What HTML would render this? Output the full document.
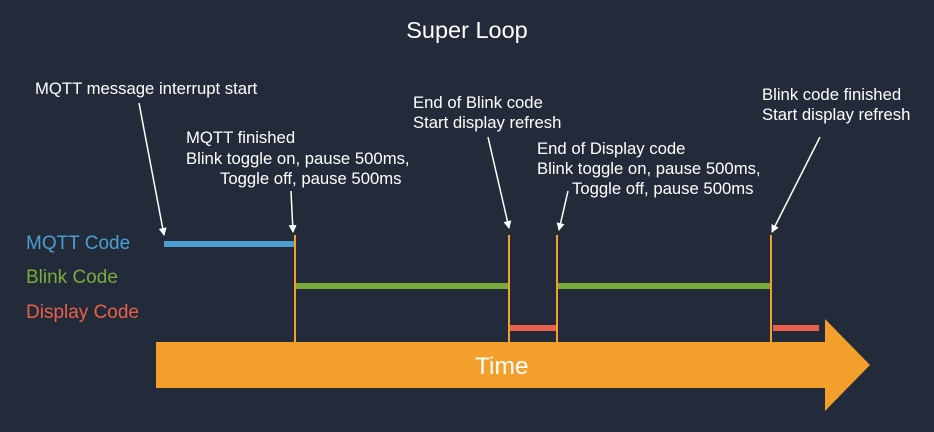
<!DOCTYPE html>
<html><head><style>
body{margin:0;background:#232b3a;}
svg{display:block;font-family:"Liberation Sans",sans-serif;}
</style></head><body>
<svg width="934" height="432" viewBox="0 0 934 432">
<rect width="934" height="432" fill="#232b3a"/>
<defs><marker id="a" markerWidth="8" markerHeight="8" refX="7" refY="4" orient="auto" markerUnits="userSpaceOnUse"><path d="M0,0 L8,4 L0,8 Z" fill="#fff"/></marker></defs>
<text x="467" y="38" text-anchor="middle" fill="#fff" font-size="23.5">Super Loop</text>
<polygon points="156,342 825,342 825,319 870,365 825,411 825,388 156,388" fill="#f29f2b"/>
<text x="475" y="374" fill="#fff" font-size="24.5">Time</text>
<g stroke="#f29f2b" stroke-width="2">
<line x1="295" y1="235" x2="295" y2="342"/><line x1="509" y1="235" x2="509" y2="342"/>
<line x1="557" y1="235" x2="557" y2="342"/><line x1="771" y1="235" x2="771" y2="342"/></g>
<rect x="164" y="241" width="130" height="6" fill="#4a9fd0"/>
<rect x="296" y="283" width="212" height="6" fill="#7aab3c"/>
<rect x="558" y="283" width="212" height="6" fill="#7aab3c"/>
<rect x="510" y="325" width="46" height="6" fill="#e8604a"/>
<rect x="773" y="325" width="46" height="6" fill="#e8604a"/>
<text x="26" y="249" fill="#4a9fd0" font-size="19">MQTT Code</text>
<text x="26" y="283" fill="#7aab3c" font-size="19">Blink Code</text>
<text x="26" y="318" fill="#e8604a" font-size="19">Display Code</text>
<g fill="#fff" font-size="16.7">
<text x="35" y="94">MQTT message interrupt start</text>
<text x="186" y="143">MQTT finished</text>
<text x="186" y="164">Blink toggle on, pause 500ms,</text>
<text x="220" y="184">Toggle off, pause 500ms</text>
<text x="413" y="108">End of Blink code</text>
<text x="413" y="128">Start display refresh</text>
<text x="537" y="154">End of Display code</text>
<text x="537" y="174">Blink toggle on, pause 500ms,</text>
<text x="572" y="194">Toggle off, pause 500ms</text>
<text x="762" y="100">Blink code finished</text>
<text x="762" y="120">Start display refresh</text>
</g>
<g stroke="#fff" stroke-width="1.5" marker-end="url(#a)">
<line x1="139" y1="103" x2="164" y2="235"/>
<line x1="291" y1="191" x2="293" y2="232"/>
<line x1="488" y1="137" x2="509" y2="228"/>
<line x1="568" y1="191" x2="559" y2="230"/>
<line x1="820" y1="137" x2="772" y2="232"/>
</g>
</svg>
</body></html>
